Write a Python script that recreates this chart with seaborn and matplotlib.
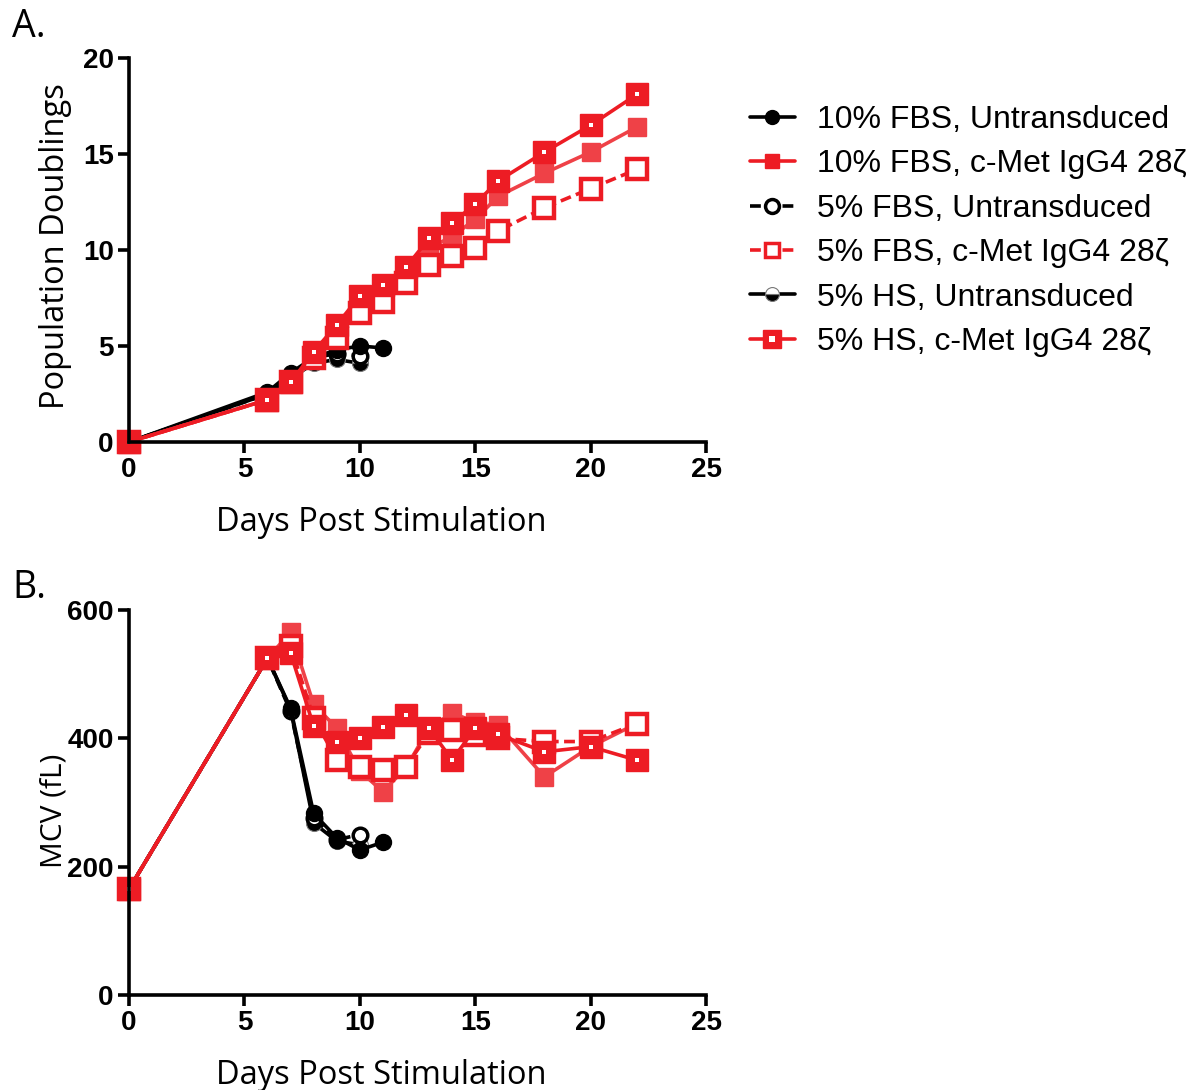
import matplotlib
matplotlib.use("Agg")
import matplotlib.pyplot as plt
import seaborn as sns
import pandas as pd
import numpy as np
from matplotlib.lines import Line2D
from matplotlib.legend_handler import HandlerTuple

# ---------------- data ----------------
series_names = [
    "10% FBS, Untransduced",
    "10% FBS, c-Met IgG4 28ζ",
    "5% FBS, Untransduced",
    "5% FBS, c-Met IgG4 28ζ",
    "5% HS, Untransduced",
    "5% HS, c-Met IgG4 28ζ",
]

days_untr = [0, 6, 7, 8, 9, 10, 11]
days_untr_short = [0, 6, 7, 8, 9, 10]
days_car = [0, 6, 7, 8, 9, 10, 11, 12, 13, 14, 15, 16, 18, 20, 22]

# Panel A: population doublings
pd_10fbs_untr = [0, 2.6, 3.6, 4.4, 4.8, 5.0, 4.9]
pd_10fbs_car = [0, 2.2, 3.1, 4.3, 5.7, 7.4, 8.2, 9.0, 10.1, 10.7, 11.6, 12.8, 14.0, 15.1, 16.4]
pd_5fbs_untr = [0, 2.5, 3.4, 4.4, 4.6, 4.5]
pd_5fbs_car = [0, 2.2, 3.1, 4.4, 5.4, 6.7, 7.3, 8.3, 9.2, 9.7, 10.1, 11.0, 12.2, 13.2, 14.2]
pd_5hs_untr = [0, 2.5, 3.3, 4.1, 4.3, 4.1]
pd_5hs_car = [0, 2.2, 3.1, 4.7, 6.1, 7.6, 8.2, 9.1, 10.6, 11.4, 12.4, 13.6, 15.1, 16.5, 18.1]

# Panel B: MCV (fL)
mcv_10fbs_untr = [165, 525, 447, 283, 245, 226, 238]
mcv_10fbs_car = [165, 525, 565, 453, 416, 349, 317, 354, 416, 439, 426, 421, 340, 387, 423]
mcv_5fbs_untr = [165, 525, 442, 276, 242, 250]
mcv_5fbs_car = [165, 525, 544, 432, 367, 356, 350, 356, 408, 413, 405, 400, 395, 395, 423]
mcv_5hs_untr = [165, 525, 445, 268, 240, 234]
mcv_5hs_car = [165, 525, 533, 419, 395, 400, 418, 436, 416, 366, 416, 406, 379, 387, 366]

x_ticks = [0, 5, 10, 15, 20, 25]
yA_ticks = [0, 5, 10, 15, 20]
yB_ticks = [0, 200, 400, 600]

RED = "#ED1C24"
RED_LIGHT = "#EF4147"
BLACK = "#000000"

day_lists = [days_untr, days_car, days_untr_short, days_car, days_untr_short, days_car]
A_vals = [pd_10fbs_untr, pd_10fbs_car, pd_5fbs_untr, pd_5fbs_car, pd_5hs_untr, pd_5hs_car]
B_vals = [mcv_10fbs_untr, mcv_10fbs_car, mcv_5fbs_untr, mcv_5fbs_car, mcv_5hs_untr, mcv_5hs_car]

rows = []
for name, d, a, b in zip(series_names, day_lists, A_vals, B_vals):
    for di, ai, bi in zip(d, a, b):
        rows.append({"series": name, "day": di, "PD": ai, "MCV": bi})
df = pd.DataFrame(rows)

styles = {
    "10% FBS, Untransduced": dict(color=BLACK, marker="o", markersize=11.5, markerfacecolor=BLACK,
                                  markeredgecolor=BLACK, markeredgewidth=1, linestyle="-"),
    "10% FBS, c-Met IgG4 28ζ": dict(color=RED_LIGHT, marker="s", markersize=12.5, markerfacecolor=RED_LIGHT,
                                    markeredgecolor=RED_LIGHT, markeredgewidth=1, linestyle="-"),
    "5% FBS, Untransduced": dict(color=BLACK, marker="o", markersize=10.5, markerfacecolor="white",
                                 markeredgecolor=BLACK, markeredgewidth=2.5, linestyle=(0, (3, 1.5))),
    "5% FBS, c-Met IgG4 28ζ": dict(color=RED, marker="s", markersize=14, markerfacecolor="white",
                                   markeredgecolor=RED, markeredgewidth=3.2, linestyle=(0, (3, 1.5))),
    "5% HS, Untransduced": dict(color=BLACK, marker="o", markersize=11.5, fillstyle="bottom",
                                markerfacecolor=BLACK, markerfacecoloralt="white",
                                markeredgecolor="#777777", markeredgewidth=0.8, linestyle="-"),
    "5% HS, c-Met IgG4 28ζ": dict(color=RED, marker="s", markersize=16, markerfacecolor=RED,
                                  markeredgecolor=RED, markeredgewidth=1, linestyle="-"),
}
draw_order = ["5% HS, Untransduced", "5% FBS, Untransduced", "10% FBS, Untransduced",
              "10% FBS, c-Met IgG4 28ζ", "5% FBS, c-Met IgG4 28ζ", "5% HS, c-Met IgG4 28ζ"]

sns.set_theme(style="white")
plt.rcParams["font.family"] = ["Liberation Sans", "DejaVu Sans"]
plt.rcParams["text.color"] = "black"
plt.rcParams["axes.labelcolor"] = "black"
plt.rcParams["xtick.color"] = "black"
plt.rcParams["ytick.color"] = "black"

fig = plt.figure(figsize=(11.93, 10.90), dpi=100)
axA = fig.add_axes([129 / 1193, 1 - 442 / 1090, 577 / 1193, 384 / 1090])
axB = fig.add_axes([129 / 1193, 1 - 995 / 1090, 577 / 1193, 385 / 1090])


def draw(ax, ycol):
    for name in draw_order:
        sub = df[df["series"] == name]
        st = dict(styles[name])
        sns.lineplot(data=sub, x="day", y=ycol, ax=ax, legend=False, lw=2.6,
                     clip_on=False, **st)
        if name == "5% HS, c-Met IgG4 28ζ":
            sns.lineplot(data=sub, x="day", y=ycol, ax=ax, legend=False, lw=0,
                         marker="s", markersize=3.5, color="white", markeredgecolor="white",
                         markeredgewidth=0, clip_on=False)


draw(axA, "PD")
draw(axB, "MCV")

for ax, yt, ylab, ylab_y, ylab_fs, ylab_x in [
        (axA, yA_ticks, "Population Doublings", 0.51, 23.5, -0.099),
        (axB, yB_ticks, "MCV (fL)", 0.478, 21.5, -0.104)]:
    ax.set_xlim(0, 25)
    ax.set_ylim(yt[0], yt[-1])
    ax.set_xticks(x_ticks)
    ax.set_yticks(yt)
    ax.set_xticklabels([str(t) for t in x_ticks])
    ax.set_yticklabels([str(t) for t in yt])
    for s in ["top", "right"]:
        ax.spines[s].set_visible(False)
    for s in ["left", "bottom"]:
        ax.spines[s].set_linewidth(2.6)
        ax.spines[s].set_color("black")
    ax.tick_params(axis="both", which="major", direction="out", length=8, width=2.6,
                   color="black", labelcolor="black", labelsize=20, pad=3, left=True, bottom=True)
    for lab in ax.get_xticklabels() + ax.get_yticklabels():
        lab.set_fontweight("bold")
    ax.set_xlabel("Days Post Stimulation", fontsize=23.5, family="Open Sans", color="black")
    ax.set_ylabel(ylab, fontsize=ylab_fs, family="Open Sans", color="black")
    ax.xaxis.set_label_coords(0.438, -0.166)
    ax.yaxis.set_label_coords(ylab_x, ylab_y)
    ax.patch.set_alpha(0)

fig.text(12 / 1193, 1 - 37 / 1090, "A.", fontsize=27, family="Open Sans", va="baseline")
fig.text(12 / 1193, 1 - 598 / 1090, "B.", fontsize=27, family="Open Sans", va="baseline")

# legend
leg_handles = []
for name in series_names:
    st = dict(styles[name])
    if name == "5% HS, c-Met IgG4 28ζ":
        base = Line2D([0], [0], lw=2.6, color=RED, marker="s", markersize=13,
                      markerfacecolor=RED, markeredgecolor=RED)
        inner = Line2D([0], [0], lw=0, marker="s", markersize=4, color="white",
                       markeredgewidth=0)
        leg_handles.append((base, inner))
    else:
        h = Line2D([0], [0], lw=2.6, **st)
        if name == "10% FBS, c-Met IgG4 28ζ":
            h.set_markersize(10)
            h.set_color(RED)
            h.set_markerfacecolor(RED)
            h.set_markeredgecolor(RED)
        if name == "5% FBS, c-Met IgG4 28ζ":
            h.set_markersize(10)
            h.set_markeredgewidth(2.5)
        if name in ("10% FBS, Untransduced", "5% FBS, Untransduced", "5% HS, Untransduced"):
            h.set_markersize(10)
        leg_handles.append(h)

fig.legend(leg_handles, series_names, loc="upper left",
           bbox_to_anchor=(750 / 1193, 1 - 105 / 1090), frameon=False,
           fontsize=23, handlelength=1.4, handletextpad=0.7, labelspacing=0.45,
           borderaxespad=0, borderpad=0, handler_map={tuple: HandlerTuple(ndivide=1)})

fig.savefig("out.png", dpi=100)
